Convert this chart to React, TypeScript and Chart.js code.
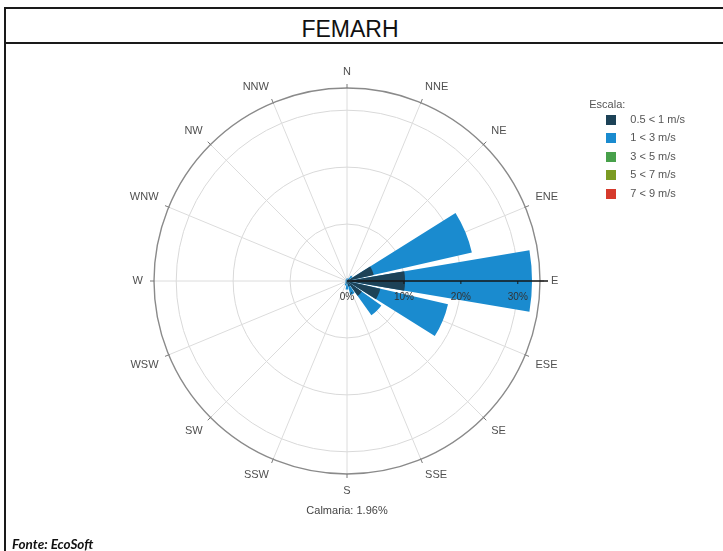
import { useEffect, useRef } from 'react';
import { Chart, registerables } from 'chart.js';

Chart.register(...registerables);

const DIRECTIONS = ['N', 'NNE', 'NE', 'ENE', 'E', 'ESE', 'SE', 'SSE', 'S', 'SSW', 'SW', 'WSW', 'W', 'WNW', 'NW', 'NNW'];
const SPEED_CLASSES = ['0.5 < 1 m/s', '1 < 3 m/s', '3 < 5 m/s', '5 < 7 m/s', '7 < 9 m/s'];
const CLASS_COLORS = ['#1d4257', '#1a8bcf', '#47a04a', '#7b9b22', '#d63a2c'];

// frequency (%) per direction, one array per speed class
const FREQ_05_1 = [0.2, 0.2, 0.5, 4.8, 10.2, 6.0, 3.2, 1.0, 0.5, 0.3, 0.2, 0.1, 0.1, 0.1, 0.1, 0.2];
const FREQ_1_3 = [0.3, 0.3, 0.7, 17.7, 22.3, 12.2, 4.2, 1.5, 1.0, 0.5, 0.2, 0.2, 0.2, 0.2, 0.2, 0.2];
const FREQ_3_5 = [0, 0, 0, 0, 0, 0, 0, 0, 0, 0, 0, 0, 0, 0, 0, 0];
const FREQ_5_7 = [0, 0, 0, 0, 0, 0, 0, 0, 0, 0, 0, 0, 0, 0, 0, 0];
const FREQ_7_9 = [0, 0, 0, 0, 0, 0, 0, 0, 0, 0, 0, 0, 0, 0, 0, 0];

const RING_TICKS = [0, 10, 20, 30];
const RING_TICK_LABELS = ['0%', '10%', '20%', '30%'];
const SCALE_MAX = 33.9;
const CALM_PERCENT = 1.96;
const TITLE = 'FEMARH';
const SOURCE = 'Fonte: EcoSoft';

const BAR_DEG = 19.2;
const GAP_DEG = 22.5 - BAR_DEG;
const FONT = '"Liberation Sans", Arial, Helvetica, sans-serif';

type Slot = { dir: number | null; angle: number };

function buildSlots(): Slot[] {
  const slots: Slot[] = [{ dir: 0, angle: BAR_DEG / 2 }];
  for (let k = 1; k < DIRECTIONS.length; k++) {
    slots.push({ dir: null, angle: GAP_DEG });
    slots.push({ dir: k, angle: BAR_DEG });
  }
  slots.push({ dir: null, angle: GAP_DEG });
  slots.push({ dir: 0, angle: BAR_DEG / 2 });
  return slots;
}

const overlayPlugin = {
  id: 'roseOverlay',
  afterDatasetsDraw(chart: any) {
    const s = chart.scales.r;
    const ctx = chart.ctx as CanvasRenderingContext2D;
    const cx = s.xCenter;
    const cy = s.yCenter;
    const R = s.drawingArea;
    ctx.save();
    ctx.strokeStyle = '#7a7a7a';
    ctx.lineWidth = 1;
    DIRECTIONS.forEach((_, i) => {
      const a = s.getPointPosition(i, R - 1);
      const b = s.getPointPosition(i, R + 4);
      ctx.beginPath();
      ctx.moveTo(a.x, a.y);
      ctx.lineTo(b.x, b.y);
      ctx.stroke();
    });
    const eIdx = DIRECTIONS.indexOf('E');
    const end = s.getPointPosition(eIdx, R + 8);
    ctx.strokeStyle = '#161616';
    ctx.lineWidth = 1.3;
    ctx.beginPath();
    ctx.moveTo(cx, cy);
    ctx.lineTo(end.x, end.y);
    ctx.stroke();
    ctx.font = `10px ${FONT}`;
    ctx.fillStyle = '#333';
    ctx.textAlign = 'center';
    ctx.textBaseline = 'middle';
    ctx.lineWidth = 1;
    RING_TICKS.forEach((v, i) => {
      const p = s.getPointPosition(eIdx, s.getDistanceFromCenterForValue(v));
      if (v > 0) {
        ctx.beginPath();
        ctx.moveTo(p.x, p.y);
        ctx.lineTo(p.x, p.y + 3);
        ctx.stroke();
      }
      ctx.fillText(RING_TICK_LABELS[i], p.x, p.y + 16);
    });
    ctx.font = `11px ${FONT}`;
    ctx.fillStyle = '#505050';
    DIRECTIONS.forEach((d, i) => {
      const deg = (i * 360) / DIRECTIONS.length;
      const p = s.getPointPosition(i, R + 11);
      ctx.textAlign = deg === 0 || deg === 180 ? 'center' : deg < 180 ? 'left' : 'right';
      ctx.textBaseline = deg === 90 || deg === 270 ? 'middle' : deg > 90 && deg < 270 ? 'top' : 'bottom';
      ctx.fillText(d, p.x, p.y);
    });
    ctx.textAlign = 'center';
    ctx.textBaseline = 'middle';
    ctx.fillStyle = '#444';
    ctx.fillText(`Calmaria: ${CALM_PERCENT.toFixed(2)}%`, cx, cy + R + 37);
    ctx.restore();
  },
};

export default function App() {
  const canvasRef = useRef<HTMLCanvasElement | null>(null);

  useEffect(() => {
    if (!canvasRef.current) return;
    const slots = buildSlots();
    const classes = [FREQ_05_1, FREQ_1_3, FREQ_3_5, FREQ_5_7, FREQ_7_9];
    const datasets = classes.map((cls, c) => ({
      label: SPEED_CLASSES[c],
      data: slots.map((sl) => {
        if (sl.dir === null || cls[sl.dir] === 0) return 0;
        let cum = 0;
        for (let j = 0; j <= c; j++) cum += classes[j][sl.dir];
        return cum;
      }),
      backgroundColor: CLASS_COLORS[c],
      borderWidth: 0,
      angle: (ctx: any) => slots[ctx.dataIndex].angle,
    }));

    const swatches = CLASS_COLORS.map((col) => {
      const cv = document.createElement('canvas');
      cv.width = 10;
      cv.height = 10;
      const g = cv.getContext('2d')!;
      g.fillStyle = col;
      g.fillRect(0, 0, 10, 10);
      return cv;
    });

    const chart = new Chart(canvasRef.current, {
      type: 'polarArea',
      data: { labels: DIRECTIONS, datasets: datasets as any },
      options: {
        responsive: false,
        animation: false,
        layout: { padding: { left: 99, right: 28, top: 44, bottom: 76 } },
        scales: {
          r: {
            min: 0,
            max: SCALE_MAX,
            startAngle: 0,
            afterBuildTicks: (scale: any) => {
              scale.ticks = [...RING_TICKS, SCALE_MAX].map((v) => ({ value: v }));
            },
            ticks: { display: false },
            pointLabels: { display: false },
            angleLines: { display: true, color: '#dcdcdc', lineWidth: 1 },
            grid: {
              circular: true,
              color: (c: any) => (c.tick && c.tick.value >= SCALE_MAX - 0.001 ? '#8a8a8a' : '#d9d9d9'),
              lineWidth: (c: any) => (c.tick && c.tick.value >= SCALE_MAX - 0.001 ? 1.4 : 1),
            },
          },
        },
        plugins: {
          tooltip: { enabled: false },
          legend: {
            position: 'right',
            align: 'start',
            title: {
              display: true,
              text: 'Escala:',
              position: 'start',
              color: '#555',
              font: { size: 11, family: FONT, lineHeight: 1 },
              padding: { top: 11, bottom: -3.5 },
            },
            labels: {
              usePointStyle: true,
              pointStyleWidth: 28,
              padding: 7.5,
              color: '#555',
              font: { size: 11, family: FONT },
              generateLabels: () =>
                SPEED_CLASSES.map((t, i) => ({
                  text: t,
                  fillStyle: CLASS_COLORS[i],
                  strokeStyle: CLASS_COLORS[i],
                  lineWidth: 0,
                  hidden: false,
                  pointStyle: swatches[i],
                  datasetIndex: i,
                })),
            },
          },
        },
      } as any,
      plugins: [overlayPlugin],
    });
    return () => chart.destroy();
  }, []);

  return (
    <div
      style={{
        position: 'absolute',
        left: 4,
        top: 7,
        width: 719,
        height: 544,
        borderLeft: '2px solid #1a1a1a',
        borderTop: '2px solid #1a1a1a',
        boxSizing: 'border-box',
        background: '#fff',
        overflow: 'hidden',
      }}
    >
      <div
        style={{
          height: 35,
          borderBottom: '2px solid #1a1a1a',
          boxSizing: 'border-box',
          display: 'flex',
          alignItems: 'center',
          justifyContent: 'center',
          paddingRight: 29,
          paddingTop: 7,
          fontFamily: FONT,
          fontSize: 23,
          color: '#111',
        }}
      >
        {TITLE}
      </div>
      <canvas ref={canvasRef} width={717} height={507} style={{ display: 'block' }} />
      <div
        style={{
          position: 'absolute',
          left: 6,
          top: 527,
          fontFamily: 'Lato, "Open Sans", sans-serif',
          fontWeight: 700,
          fontStyle: 'italic',
          fontSize: 13.5,
          lineHeight: '16px',
          color: '#111',
          whiteSpace: 'nowrap',
        }}
      >
        {SOURCE}
      </div>
    </div>
  );
}
